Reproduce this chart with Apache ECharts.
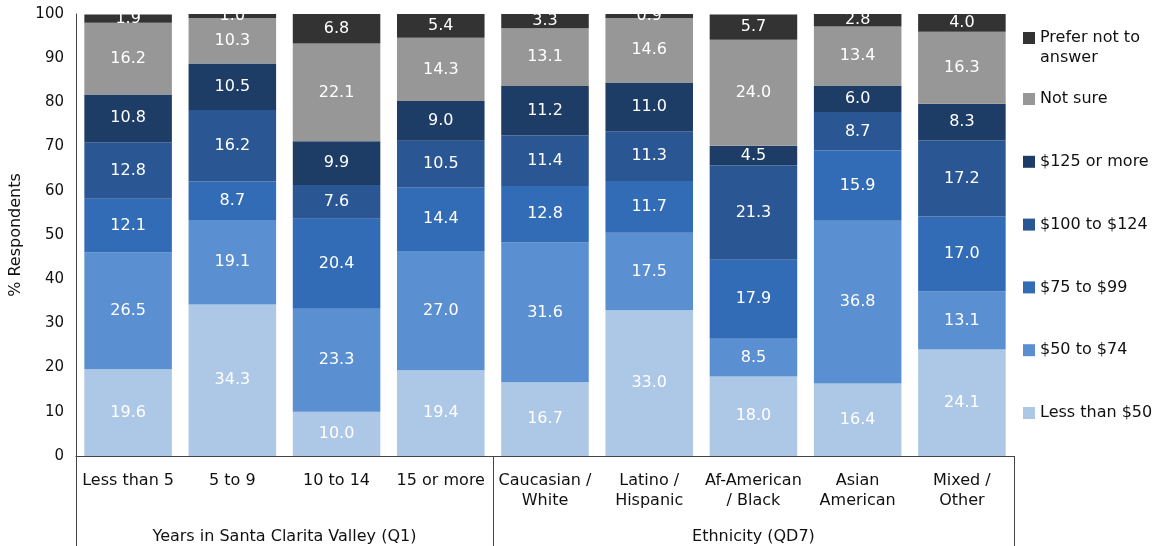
<!DOCTYPE html>
<html>
<head>
<meta charset="utf-8">
<script src="https://cdn.jsdelivr.net/npm/echarts@6/dist/echarts.min.js"></script>
<style>
  html, body { margin: 0; padding: 0; background: #fff; }
  #chart { width: 1160px; height: 546px; }
</style>
</head>
<body>
<div id="chart"></div>
<script>
// categories along the x axis
const categories = [
  'Less than 5', '5 to 9', '10 to 14', '15 or more',
  'Caucasian /\nWhite', 'Latino /\nHispanic', 'Af-American\n/ Black', 'Asian\nAmerican', 'Mixed /\nOther'
];
// group labels under the categories and how many categories each spans
const groupNames = ['Years in Santa Clarita Valley (Q1)', 'Ethnicity (QD7)'];
const groupSizes = [4, 5];

// series, stacked bottom to top
const seriesNames = ['Less than $50', '$50 to $74', '$75 to $99', '$100 to $124', '$125 or more', 'Not sure', 'Prefer not to answer'];
const lessThan50 = [19.6, 34.3, 10.0, 19.4, 16.7, 33.0, 18.0, 16.4, 24.1];
const from50to74 = [26.5, 19.1, 23.3, 27.0, 31.6, 17.5, 8.5, 36.8, 13.1];
const from75to99 = [12.1, 8.7, 20.4, 14.4, 12.8, 11.7, 17.9, 15.9, 17.0];
const from100to124 = [12.8, 16.2, 7.6, 10.5, 11.4, 11.3, 21.3, 8.7, 17.2];
const over125 = [10.8, 10.5, 9.9, 9.0, 11.2, 11.0, 4.5, 6.0, 8.3];
const notSure = [16.2, 10.3, 22.1, 14.3, 13.1, 14.6, 24.0, 13.4, 16.3];
const preferNot = [1.9, 1.0, 6.8, 5.4, 3.3, 0.9, 5.7, 2.8, 4.0];
const seriesValues = [lessThan50, from50to74, from75to99, from100to124, over125, notSure, preferNot];
const colors = ['#adc8e7', '#5a8fd2', '#326cb7', '#2a5693', '#1d3c66', '#979797', '#333333'];

const yTicks = { min: 0, max: 100, interval: 10 };

const FONT = 'DejaVu Sans';

// group label positions on a half-unit scale (2 units per category)
const groupCentres = {};
let acc = 0;
groupSizes.forEach((n, i) => {
  groupCentres[acc * 2 + n] = groupNames[i];
  acc += n;
});
// boundaries between groups (category indexes)
const boundaries = [0];
groupSizes.slice(0, -1).forEach((n, i) => boundaries.push(boundaries[i] + n));

const chart = echarts.init(document.getElementById('chart'), null, { renderer: 'canvas' });

const option = {
  animation: false,
  textStyle: { fontFamily: FONT },
  grid: { left: 73, right: 146, top: 14, bottom: 90, containLabel: false },
  legend: [
    {
      data: ['Prefer not to answer'],
      orient: 'vertical',
      left: 1023,
      top: 8,
      padding: 0,
      itemWidth: 12,
      itemHeight: 12,
      icon: 'rect',
      formatter: () => ' \nPrefer not to\nanswer',
      textStyle: { fontFamily: FONT, fontSize: 16, color: '#111', lineHeight: 20 }
    },
    {
      data: seriesNames.slice(0, 6).reverse(),
      orient: 'vertical',
      left: 1023,
      top: 90,
      padding: 0,
      itemGap: 44.8,
      itemWidth: 12,
      itemHeight: 12,
      icon: 'rect',
      textStyle: { fontFamily: FONT, fontSize: 16, color: '#111', lineHeight: 18 }
    }
  ],
  xAxis: [
    {
      type: 'category',
      data: categories,
      axisLine: { lineStyle: { color: '#444', width: 1 } },
      axisTick: {
        show: true,
        interval: (idx) => boundaries.indexOf(idx) >= 0,
        length: 90,
        lineStyle: { color: '#444', width: 1 }
      },
      axisLabel: {
        interval: 0,
        margin: 15,
        fontFamily: FONT,
        fontSize: 16,
        color: '#111',
        lineHeight: 20
      }
    },
    {
      type: 'value',
      position: 'bottom',
      min: 0,
      max: categories.length * 2,
      interval: 1,
      axisLine: { show: false },
      axisTick: { show: false },
      splitLine: { show: false },
      axisLabel: {
        margin: 73,
        fontFamily: FONT,
        fontSize: 16,
        color: '#111',
        showMinLabel: true,
        showMaxLabel: true,
        formatter: (v) => groupCentres[v] || ''
      }
    }
  ],
  yAxis: {
    type: 'value',
    min: yTicks.min,
    max: yTicks.max,
    interval: yTicks.interval,
    name: '% Respondents',
    nameLocation: 'middle',
    nameGap: 52,
    nameRotate: 90,
    nameTextStyle: { fontFamily: FONT, fontSize: 16, color: '#111' },
    axisLine: { show: true, lineStyle: { color: '#444', width: 1 } },
    axisTick: { show: false },
    splitLine: { show: false },
    axisLabel: { margin: 12, fontFamily: FONT, fontSize: 15, color: '#111' }
  },
  series: seriesNames.map((name, i) => ({
    name: name,
    type: 'bar',
    stack: 'total',
    xAxisIndex: 0,
    barCategoryGap: '16%',
    data: seriesValues[i],
    itemStyle: { color: colors[i] },
    label: {
      show: true,
      position: 'inside',
      color: '#fff',
      fontFamily: FONT,
      fontSize: 16,
      formatter: (p) => p.value.toFixed(1)
    }
  }))
};

chart.setOption(option);
</script>
</body>
</html>
